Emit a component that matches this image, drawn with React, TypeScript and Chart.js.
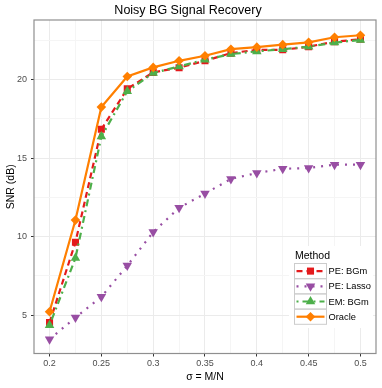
import React, { useEffect, useRef } from "react";
import { Chart, registerables } from "chart.js";

Chart.register(...registerables);

// ---- data ----
const sigma = [0.2, 0.225, 0.25, 0.275, 0.3, 0.325, 0.35, 0.375, 0.4, 0.425, 0.45, 0.475, 0.5];
const peBGm = [4.52, 9.64, 16.84, 19.41, 20.46, 20.76, 21.2, 21.69, 21.9, 21.9, 22.1, 22.42, 22.57];
const peLasso = [3.46, 4.84, 6.16, 8.15, 10.29, 11.83, 12.74, 13.67, 14.05, 14.32, 14.37, 14.58, 14.58];
const emBGm = [4.35, 8.63, 16.37, 19.26, 20.42, 20.84, 21.27, 21.63, 21.8, 21.94, 22.1, 22.36, 22.53];
const oracle = [5.21, 11.05, 18.25, 20.2, 20.78, 21.2, 21.52, 21.94, 22.07, 22.23, 22.38, 22.7, 22.83];

const seriesNames = ["PE: BGm", "PE: Lasso", "EM: BGm", "Oracle"];
const xMajor = [0.2, 0.25, 0.3, 0.35, 0.4, 0.45, 0.5];
const xMinor = [0.225, 0.275, 0.325, 0.375, 0.425, 0.475];
const yMajor = [5, 10, 15, 20];
const yMinor = [7.5, 12.5, 17.5, 22.5];

const FONT = "'Liberation Sans', Arial, Helvetica, sans-serif";

type Style = { color: string; dash: number[]; shape: string; rot: number; radius: number };
const styles: Style[] = [
  { color: "#e41a1c", dash: [6, 4], shape: "rect", rot: 0, radius: 5 },
  { color: "#984ea3", dash: [2, 6], shape: "triangle", rot: 180, radius: 5.5 },
  { color: "#4daf4a", dash: [2, 4, 7, 4], shape: "triangle", rot: 0, radius: 5.5 },
  { color: "#ff7f00", dash: [], shape: "rectRot", rot: 0, radius: 4.8 },
];
const seriesValues = [peBGm, peLasso, emBGm, oracle];

function drawMarker(ctx: CanvasRenderingContext2D, s: Style, x: number, y: number) {
  ctx.save();
  ctx.fillStyle = s.color;
  ctx.setLineDash([]);
  ctx.beginPath();
  const r = s.radius;
  if (s.shape === "rect") {
    const h = r * Math.SQRT1_2;
    ctx.rect(x - h, y - h, 2 * h, 2 * h);
  } else if (s.shape === "rectRot") {
    ctx.moveTo(x, y - r);
    ctx.lineTo(x + r, y);
    ctx.lineTo(x, y + r);
    ctx.lineTo(x - r, y);
    ctx.closePath();
  } else {
    const sgn = s.rot === 180 ? -1 : 1;
    for (let k = 0; k < 3; k++) {
      const a = (k * 2 * Math.PI) / 3;
      const px = x + Math.sin(a) * r;
      const py = y - sgn * Math.cos(a) * r;
      if (k === 0) ctx.moveTo(px, py);
      else ctx.lineTo(px, py);
    }
    ctx.closePath();
  }
  ctx.fill();
  ctx.restore();
}

const panelPlugin = {
  id: "panelAndLegend",
  afterDraw(chart: any) {
    const { ctx, chartArea: a } = chart;
    ctx.save();
    // panel border
    ctx.strokeStyle = "#8f8f8f";
    ctx.lineWidth = 1.2;
    ctx.strokeRect(a.left, a.top, a.right - a.left, a.bottom - a.top);

    // legend (inside panel, bottom right)
    const lx = 289;
    const ly = 246;
    ctx.fillStyle = "#ffffff";
    ctx.fillRect(lx, ly, 84, 82);
    ctx.fillStyle = "#000000";
    ctx.font = `10.5px ${FONT}`;
    ctx.textBaseline = "middle";
    ctx.textAlign = "left";
    ctx.fillText("Method", 295, 256);
    const kx = 294.5;
    const kw = 32;
    const kh = 15.2;
    seriesNames.forEach((name, i) => {
      const s = styles[i];
      const ky = 263.5 + i * kh;
      ctx.strokeStyle = "#cccccc";
      ctx.lineWidth = 1;
      ctx.setLineDash([]);
      ctx.strokeRect(kx, ky, kw, kh);
      const cy = ky + kh / 2;
      ctx.strokeStyle = s.color;
      ctx.lineWidth = 2.2;
      ctx.setLineDash(s.dash);
      ctx.beginPath();
      ctx.moveTo(kx + 2, cy);
      ctx.lineTo(kx + kw - 2, cy);
      ctx.stroke();
      drawMarker(ctx, s, kx + kw / 2, cy);
      ctx.fillStyle = "#000000";
      ctx.font = `9.3px ${FONT}`;
      ctx.fillText(name, 328.5, cy + 0.5);
    });
    ctx.restore();
  },
};

export default function App() {
  const ref = useRef<HTMLCanvasElement | null>(null);

  useEffect(() => {
    if (!ref.current) return;
    const datasets = seriesNames.map((name, i) => {
      const s = styles[i];
      return {
        label: name,
        data: sigma.map((x, j) => ({ x, y: seriesValues[i][j] })),
        borderColor: s.color,
        backgroundColor: s.color,
        borderWidth: 2.2,
        borderDash: s.dash,
        pointStyle: s.shape,
        pointRotation: s.rot,
        pointRadius: s.radius,
        pointBorderWidth: 0,
        pointBackgroundColor: s.color,
        fill: false,
        tension: 0,
        order: 4 - i,
      };
    });

    const chart = new Chart(ref.current, {
      type: "line",
      data: { datasets: datasets as any },
      plugins: [panelPlugin as any],
      options: {
        animation: false,
        responsive: false,
        layout: { padding: { left: 0, right: 6, top: 0, bottom: 0 } },
        plugins: {
          legend: { display: false },
          tooltip: { enabled: false },
          title: {
            display: true,
            text: "Noisy BG Signal Recovery",
            color: "#000000",
            font: { family: FONT, size: 12.5, weight: "normal" as any, lineHeight: 1.2 },
            padding: { top: 3, bottom: 2 },
          },
        },
        scales: {
          x: {
            type: "linear",
            min: 0.185,
            max: 0.515,
            afterBuildTicks: (s: any) => {
              s.ticks = [...xMajor, ...xMinor].sort((a, b) => a - b).map((v) => ({ value: v }));
            },
            afterFit: (s: any) => {
              s.height = 34.5;
            },
            ticks: {
              autoSkip: false,
              maxRotation: 0,
              padding: 2,
              color: "#4d4d4d",
              font: { family: FONT, size: 9 },
              callback: (v: any) => (xMajor.includes(Number(v)) ? String(v) : ""),
            },
            grid: {
              color: (c: any) => (xMajor.includes(c.tick?.value) ? "#ebebeb" : "#f5f5f5"),
              lineWidth: 1,
              tickLength: 3,
              tickColor: (c: any) => (xMajor.includes(c.tick?.value) ? "#333333" : "rgba(0,0,0,0)"),
            },
            border: { display: false },
            title: {
              display: true,
              text: "σ = M/N",
              color: "#000000",
              font: { family: FONT, size: 10.5 },
              padding: { top: 0, bottom: 4.5 },
            },
          },
          y: {
            type: "linear",
            min: 2.55,
            max: 23.8,
            afterBuildTicks: (s: any) => {
              s.ticks = [...yMajor, ...yMinor].sort((a, b) => a - b).map((v) => ({ value: v }));
            },
            afterFit: (s: any) => {
              s.width = 34;
            },
            ticks: {
              autoSkip: false,
              padding: 4,
              color: "#4d4d4d",
              font: { family: FONT, size: 9 },
              callback: (v: any) => (yMajor.includes(Number(v)) ? String(v) : ""),
            },
            grid: {
              color: (c: any) => (yMajor.includes(c.tick?.value) ? "#ebebeb" : "#f5f5f5"),
              lineWidth: 1,
              tickLength: 3,
              tickColor: (c: any) => (yMajor.includes(c.tick?.value) ? "#333333" : "rgba(0,0,0,0)"),
            },
            border: { display: false },
            title: {
              display: true,
              text: "SNR (dB)",
              color: "#000000",
              font: { family: FONT, size: 10.5 },
              padding: { top: 5, bottom: 0 },
            },
          },
        },
      },
    });
    return () => chart.destroy();
  }, []);

  return (
    <div style={{ position: "fixed", left: 0, top: 0, width: 382, height: 388, background: "#fff" }}>
      <canvas ref={ref} width={382} height={388} style={{ display: "block" }} />
    </div>
  );
}
